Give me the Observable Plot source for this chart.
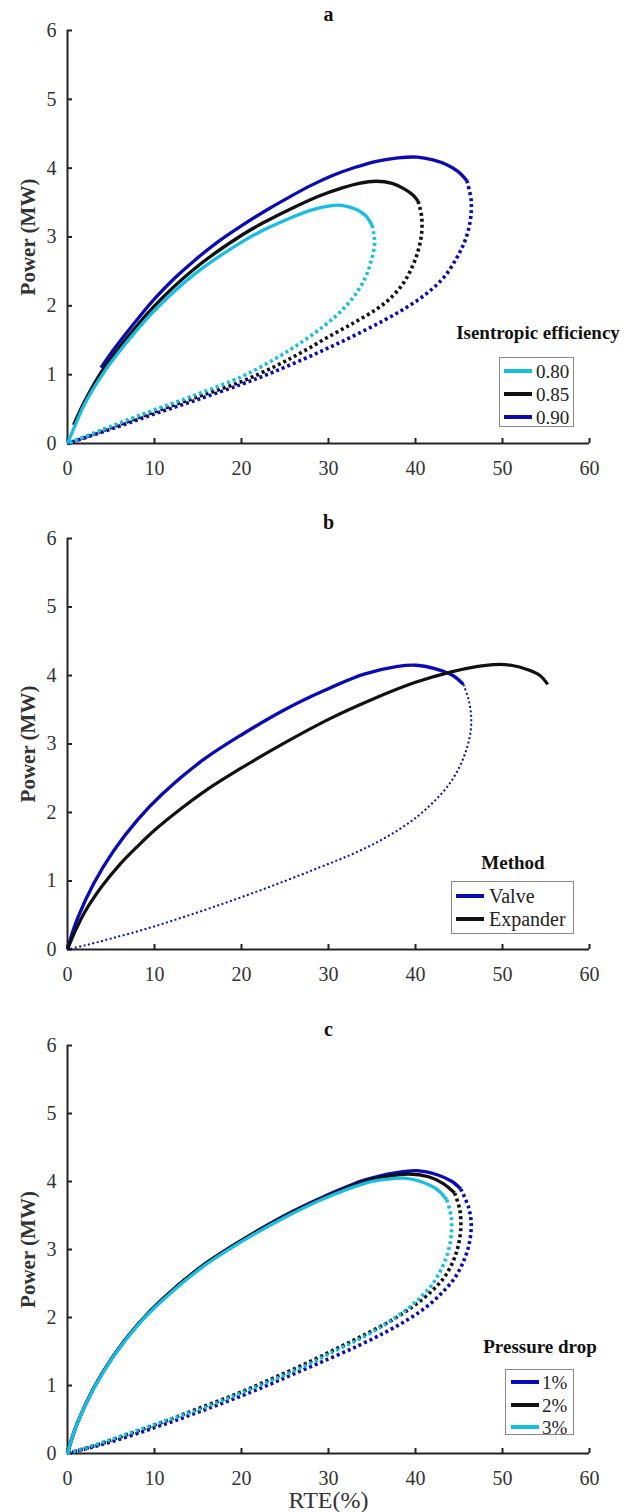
<!DOCTYPE html>
<html><head><meta charset="utf-8">
<script src="https://cdn.jsdelivr.net/npm/d3@7"></script>
<script src="https://cdn.jsdelivr.net/npm/@observablehq/plot@0.6"></script>
<style>
body{margin:0;background:#fff}
#wrap{position:relative;width:634px;height:1512px;overflow:hidden;font-family:"Liberation Serif","DejaVu Serif",serif;color:#222}
#wrap svg{display:block}
.lt{position:absolute;font-weight:bold;font-size:19px;transform:translate(-50%,-50%);white-space:nowrap;color:#111}
.lb{position:absolute;border:1px solid #888;background:#fff;box-sizing:border-box}
.le{position:absolute;line-height:1;transform:translateY(-50%);white-space:nowrap;color:#222}
.ll{position:absolute;height:4px;transform:translateY(-50%)}
</style></head><body><div id="wrap"></div>
<script>
// ---- axis ticks ----
const xTicks = [0, 10, 20, 30, 40, 50, 60];
const yTicks = [0, 1, 2, 3, 4, 5, 6];

// ---- colours ----
const cyan = "#17BEE2", black = "#111111", blue = "#0B0BB3";

// ---- panel a : isentropic efficiency  [RTE %, Power MW] ----
const a80Solid = [[0,0],[1,0.3],[2,0.58],[3.9,0.98],[6.3,1.39],[10,1.93],[14.6,2.46],[20.2,2.94],[23,3.13],[25.5,3.27],[28,3.39],[30,3.45],[31.5,3.46],[33,3.41],[34.2,3.32],[35,3.17]];
const a80Dotted = [[35,3.17],[35.2,3.05],[35.3,2.9],[34.9,2.65],[34.2,2.4],[33,2.15],[31.5,1.93],[29.5,1.71],[27,1.48],[24,1.24],[20,0.97],[15,0.72],[10,0.49],[5,0.25],[0,0]];
const a85Solid = [[0.7,0.27],[2,0.62],[3.9,1.04],[6.3,1.45],[10,2.0],[14.6,2.54],[20.2,3.04],[23,3.24],[26,3.43],[29,3.6],[31.5,3.71],[33.5,3.78],[35.5,3.81],[37.3,3.78],[38.7,3.7],[39.7,3.61],[40.3,3.52]];
const a85Dotted = [[40.3,3.52],[40.7,3.3],[40.7,3.05],[40.3,2.8],[39.6,2.56],[38.6,2.33],[37.2,2.12],[35.5,1.95],[33,1.76],[30,1.55],[27,1.33],[24,1.13],[20,0.9],[15,0.68],[10,0.46],[5,0.23],[0,0]];
const a90Solid = [[3.85,1.1],[5,1.31],[6.5,1.56],[8.2,1.83],[10,2.1],[12.3,2.4],[14.6,2.66],[17.4,2.94],[20.2,3.18],[23,3.4],[25.5,3.58],[28,3.75],[30.6,3.9],[33,4.01],[35.5,4.1],[38,4.15],[40.2,4.16],[42,4.12],[43.6,4.05],[44.9,3.95],[45.9,3.82]];
const a90Dotted = [[45.9,3.82],[46.4,3.53],[46.3,3.24],[45.7,2.95],[44.8,2.71],[43.3,2.42],[41.3,2.18],[39,1.98],[36.4,1.79],[33.3,1.59],[30.2,1.4],[27.2,1.23],[23.5,1.03],[20,0.86],[15,0.64],[10,0.43],[5,0.21],[0,0]];

// ---- panel b : method ----
const valveSolid = [[0,0],[0.5,0.22],[1.2,0.47],[3,0.96],[5.3,1.44],[8.1,1.9],[10.9,2.27],[15.5,2.76],[20.2,3.15],[24.8,3.49],[29.5,3.78],[34.1,4.02],[37.8,4.13],[40.1,4.15],[42.5,4.09],[44.3,4.0],[45.5,3.87]];
const valveDotted = [[45.5,3.87],[46.1,3.65],[46.4,3.4],[46.3,3.15],[45.8,2.9],[45,2.65],[43.8,2.4],[42.2,2.17],[40.3,1.95],[38.2,1.76],[35.5,1.56],[32.5,1.38],[29,1.2],[25,1.0],[21,0.81],[17,0.63],[13,0.46],[9,0.3],[5,0.16],[2,0.06],[0,0]];
const expanderSolid = [[0,0],[1,0.3],[2,0.55],[4,0.93],[6,1.24],[8,1.5],[10,1.74],[13,2.05],[16,2.33],[20,2.65],[25,3.02],[30,3.36],[35,3.65],[40,3.9],[44,4.05],[47,4.13],[49,4.16],[51,4.15],[53,4.08],[54.3,4.0],[55.2,3.87]];

// ---- panel c : pressure drop ----
const c1Solid = [[0,0],[0.5,0.22],[1.2,0.47],[3,0.96],[5.3,1.44],[8.1,1.9],[10.9,2.27],[15.5,2.76],[20.2,3.15],[24.8,3.49],[29.5,3.78],[34.1,4.02],[37.8,4.13],[40.1,4.16],[42.5,4.1],[44.2,4.0],[45.2,3.89]];
const c1Dotted = [[45.2,3.89],[46.1,3.62],[46.4,3.38],[46.2,3.1],[45.6,2.85],[44.6,2.6],[43.1,2.37],[41.2,2.15],[39,1.96],[36.5,1.78],[33.5,1.59],[30,1.39],[26,1.17],[22,0.95],[18,0.75],[14,0.56],[10,0.38],[6,0.21],[3,0.1],[0,0]];
const c2Solid = [[0,0],[0.5,0.22],[1.2,0.47],[3,0.96],[5.3,1.44],[8.1,1.9],[10.9,2.27],[15.5,2.76],[20.2,3.15],[24.8,3.48],[29.5,3.77],[34.1,4.0],[37,4.08],[39.2,4.11],[41.5,4.07],[43.2,3.97],[44.5,3.83]];
const c2Dotted = [[44.5,3.83],[45.1,3.58],[45.2,3.3],[44.9,3.05],[44.3,2.82],[43.3,2.59],[41.8,2.38],[39.8,2.17],[37.4,1.97],[34.5,1.77],[31.2,1.56],[27.5,1.33],[23.5,1.1],[19.5,0.88],[15,0.66],[10.5,0.44],[6,0.24],[3,0.11],[0,0]];
const c3Solid = [[0,0],[0.5,0.22],[1.2,0.47],[3,0.95],[5.3,1.43],[8.1,1.89],[10.9,2.25],[15.5,2.74],[20.2,3.13],[24.8,3.46],[29.5,3.75],[34.1,3.97],[36.5,4.03],[38.7,4.05],[40.6,4.0],[42.5,3.88],[43.6,3.73]];
const c3Dotted = [[43.6,3.73],[44.1,3.48],[44.1,3.2],[43.7,2.95],[43,2.72],[42,2.5],[40.6,2.3],[38.8,2.1],[36.5,1.9],[33.8,1.7],[30.6,1.5],[27,1.27],[23,1.05],[19,0.84],[15,0.64],[10.5,0.45],[6,0.25],[3,0.12],[0,0]];

const wrap = document.getElementById("wrap");

function panel({title, lines, height, mt, mb, xlabel}) {
  const marks = [
    Plot.axisX({ticks: xTicks, tickSize: -5, tickPadding: 22, fontSize: 20, stroke: "#222", strokeWidth: 2, fill: "#333", label: null, tickFormat: d => String(d)}),
    Plot.axisY({ticks: yTicks, tickSize: -5, tickPadding: 16, fontSize: 20, stroke: "#222", strokeWidth: 2, fill: "#333", label: null, tickFormat: d => String(d)}),
    Plot.ruleY([0], {stroke: "#222", strokeWidth: 2}),
    Plot.ruleX([0], {stroke: "#222", strokeWidth: 2})
  ];
  for (const l of lines) {
    marks.push(Plot.line(l.data, {
      x: d => d[0], y: d => d[1], stroke: l.color, curve: "catmull-rom",
      strokeWidth: l.width, strokeDasharray: l.dash || null, strokeLinecap: "butt"
    }));
  }
  marks.push(Plot.text([title], {frameAnchor: "top", textAnchor: "middle", lineAnchor: "middle", dy: -16, fontWeight: "bold", fontSize: 20, fill: "#111"}));
  marks.push(Plot.text(["Power (MW)"], {frameAnchor: "left", textAnchor: "middle", lineAnchor: "middle", rotate: -90, dx: -39, fontWeight: "bold", fontSize: 21, fill: "#333"}));
  if (xlabel) marks.push(Plot.text([xlabel], {frameAnchor: "bottom", textAnchor: "middle", lineAnchor: "middle", dy: 47, fontSize: 24, fill: "#333"}));
  const svg = Plot.plot({
    width: 634, height, marginTop: mt, marginBottom: mb, marginLeft: 67, marginRight: 45,
    style: {fontFamily: "'Liberation Serif', 'DejaVu Serif', serif", background: "#fff", overflow: "visible"},
    x: {domain: [0, 60]}, y: {domain: [0, 6]},
    marks
  });
  wrap.appendChild(svg);
}

const SOLID = 3.3, DOT = 3.6, DASH = "3,3";
panel({title: "a", height: 507, mt: 30, mb: 64, lines: [
  {data: a90Solid, color: blue, width: SOLID}, {data: a90Dotted, color: blue, width: DOT, dash: DASH},
  {data: a85Solid, color: black, width: SOLID}, {data: a85Dotted, color: black, width: DOT, dash: DASH},
  {data: a80Solid, color: cyan, width: SOLID}, {data: a80Dotted, color: cyan, width: DOT, dash: DASH}
]});
panel({title: "b", height: 507, mt: 31, mb: 65, lines: [
  {data: valveSolid, color: blue, width: 3.4}, {data: valveDotted, color: blue, width: 2, dash: "2,2.5"},
  {data: expanderSolid, color: black, width: 3.2}
]});
panel({title: "c", height: 498, mt: 31, mb: 59, xlabel: "RTE(%)", lines: [
  {data: c1Solid, color: blue, width: SOLID}, {data: c1Dotted, color: blue, width: DOT, dash: DASH},
  {data: c2Solid, color: black, width: SOLID}, {data: c2Dotted, color: black, width: DOT, dash: DASH},
  {data: c3Solid, color: cyan, width: SOLID}, {data: c3Dotted, color: cyan, width: DOT, dash: DASH}
]});

// ---- legends (HTML) ----
const legendA = {title: "Isentropic efficiency", labels: ["0.80", "0.85", "0.90"], colors: [cyan, black, blue]};
const legendB = {title: "Method", labels: ["Valve", "Expander"], colors: [blue, black]};
const legendC = {title: "Pressure drop", labels: ["1%", "2%", "3%"], colors: [blue, black, cyan]};

function legend(spec, tx, ty, bx, by, bw, bh, rows, lx0, lx1, tx0, fs) {
  const t = document.createElement("div");
  t.className = "lt"; t.textContent = spec.title;
  t.style.left = tx + "px"; t.style.top = ty + "px";
  wrap.appendChild(t);
  const b = document.createElement("div");
  b.className = "lb";
  Object.assign(b.style, {left: bx + "px", top: by + "px", width: bw + "px", height: bh + "px"});
  spec.labels.forEach((lab, i) => {
    const ln = document.createElement("div");
    ln.className = "ll";
    Object.assign(ln.style, {left: lx0 + "px", width: (lx1 - lx0) + "px", top: rows[i] + "px", background: spec.colors[i]});
    b.appendChild(ln);
    const tx_ = document.createElement("div");
    tx_.className = "le"; tx_.textContent = lab;
    Object.assign(tx_.style, {left: tx0 + "px", top: rows[i] + "px", fontSize: fs + "px"});
    b.appendChild(tx_);
  });
  wrap.appendChild(b);
}
legend(legendA, 538, 333, 499, 357, 75, 70, [13, 36, 59], 4, 32, 36, 19);
legend(legendB, 513, 863, 451, 881, 123, 53, [14, 37], 4, 32, 37, 20);
legend(legendC, 540, 1347, 505, 1369, 69, 66, [12, 35, 57], 5, 33, 36, 19);
</script></body></html>
